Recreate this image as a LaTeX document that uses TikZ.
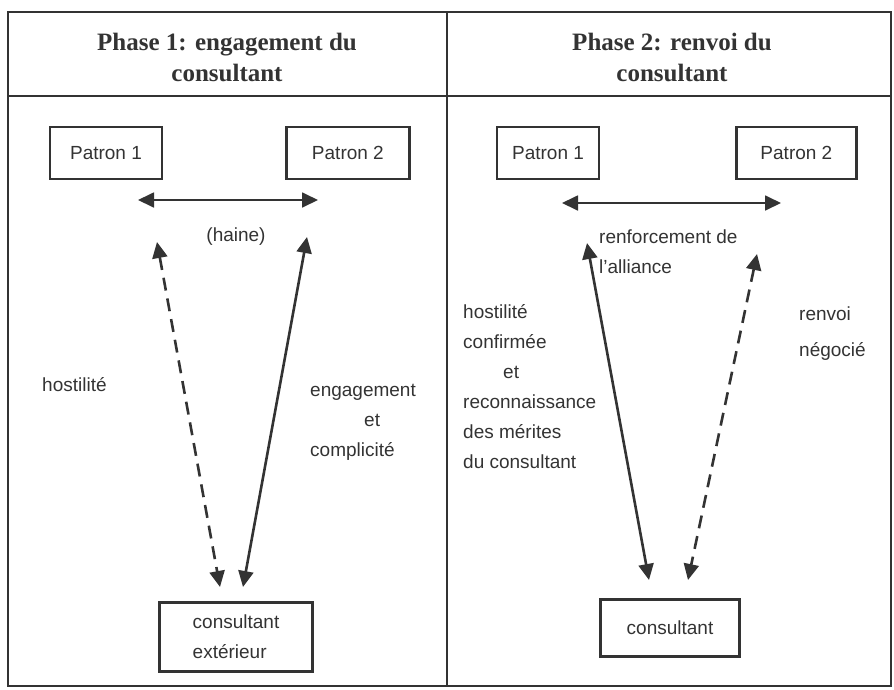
\documentclass[tikz,border=0pt]{standalone}
\usepackage{fontspec}
\setmainfont{Liberation Sans}
\newfontfamily\headfont{Liberation Serif}
\usetikzlibrary{arrows.meta}
\usetikzlibrary{positioning}
\definecolor{ink}{gray}{0.2}
\tikzset{
    box/.style={
           rectangle,
           draw=ink, line width=2.4pt,
           text=ink,
           minimum height=52pt,
           font=\fontsize{19}{30}\selectfont,
           inner sep=2pt,
           text centered,
           },
    lbl/.style={
           text=ink,
           align=left,
           inner sep=0pt,
           font=\fontsize{19}{30}\selectfont,
           },
    head/.style={
           text=ink,
           align=center,
           inner sep=0pt,
           font=\headfont\bfseries\fontsize{25}{31}\selectfont,
           },
    link/.style={
           draw=ink, line width=2.6pt,
           {Triangle[length=16pt,width=15pt]}-{Triangle[length=16pt,width=15pt]},
           },
    flat/.style={link, line width=1.8pt},
    hint/.style={link, dash pattern=on 13pt off 8pt},
}

\begin{document}
\begin{tikzpicture}[x=1pt,y=-1pt]
    \useasboundingbox (0,0) rectangle (894,689);
    % frame
    \draw[ink, line width=1.5pt] (8,12) rectangle (891,686);
    \draw[ink, line width=1.5pt] (8,96) -- (891,96);
    \draw[ink, line width=1.5pt] (447,12) -- (447,686);

    % phase 1
    \node[head, anchor=base] (t_1) at (227,81) {Phase 1: engagement du\\consultant};
    \node[box, minimum width=112pt] (p1_1) at (106,153) {Patron 1};
    \node[box, minimum width=123pt, right=122pt of p1_1] (p2_1) {Patron 2};
    \node[box, align=left, minimum width=153pt, minimum height=69pt] (c_1) at (236,637) {consultant\\extérieur};
    \coordinate (h_a) at (138,200);
    \coordinate (h_b) at (318,200);
    \coordinate (d_a) at (157,242);
    \coordinate (d_b) at (220,587);
    \coordinate (s_a) at (307,237);
    \coordinate (s_b) at (243,587);
    \draw[flat] (h_a) -- (h_b);
    \draw[hint] (d_a) -- (d_b);
    \draw[link] (s_a) -- (s_b);
    \node[lbl] (haine) at (236,237) {(haine)};
    \node[lbl, anchor=base west] (hos_1) at (42,391) {hostilité};
    \node[lbl, anchor=base west] (eng) at (310,456) {engagement\\\hspace*{54pt}et\\complicité};

    % phase 2
    \node[head, anchor=base] (t_2) at (672,81) {Phase 2: renvoi du\\consultant};
    \node[box, minimum width=102pt] (p1_2) at (548,153) {Patron 1};
    \node[box, minimum width=120pt, right=135pt of p1_2] (p2_2) {Patron 2};
    \node[box, minimum width=139pt, minimum height=57pt] (c_2) at (670,628) {consultant};
    \coordinate (a_a) at (562,203);
    \coordinate (a_b) at (781,203);
    \coordinate (r_a) at (587,243);
    \coordinate (r_b) at (649,580);
    \coordinate (n_a) at (757,254);
    \coordinate (n_b) at (688,580);
    \draw[flat] (a_a) -- (a_b);
    \draw[link] (r_a) -- (r_b);
    \draw[hint] (n_a) -- (n_b);
    \node[lbl, anchor=base west] (ren) at (599,273) {renforcement de\\l’alliance};
    \node[lbl, anchor=base west] (hos_2) at (463,468) {hostilité\\confirmée\\\hspace*{40pt}et\\reconnaissance\\des mérites\\du consultant};
    \node[lbl, anchor=base west, font=\fontsize{19}{36}\selectfont] (neg) at (799,356) {renvoi\\négocié};
\end{tikzpicture}
\end{document}
